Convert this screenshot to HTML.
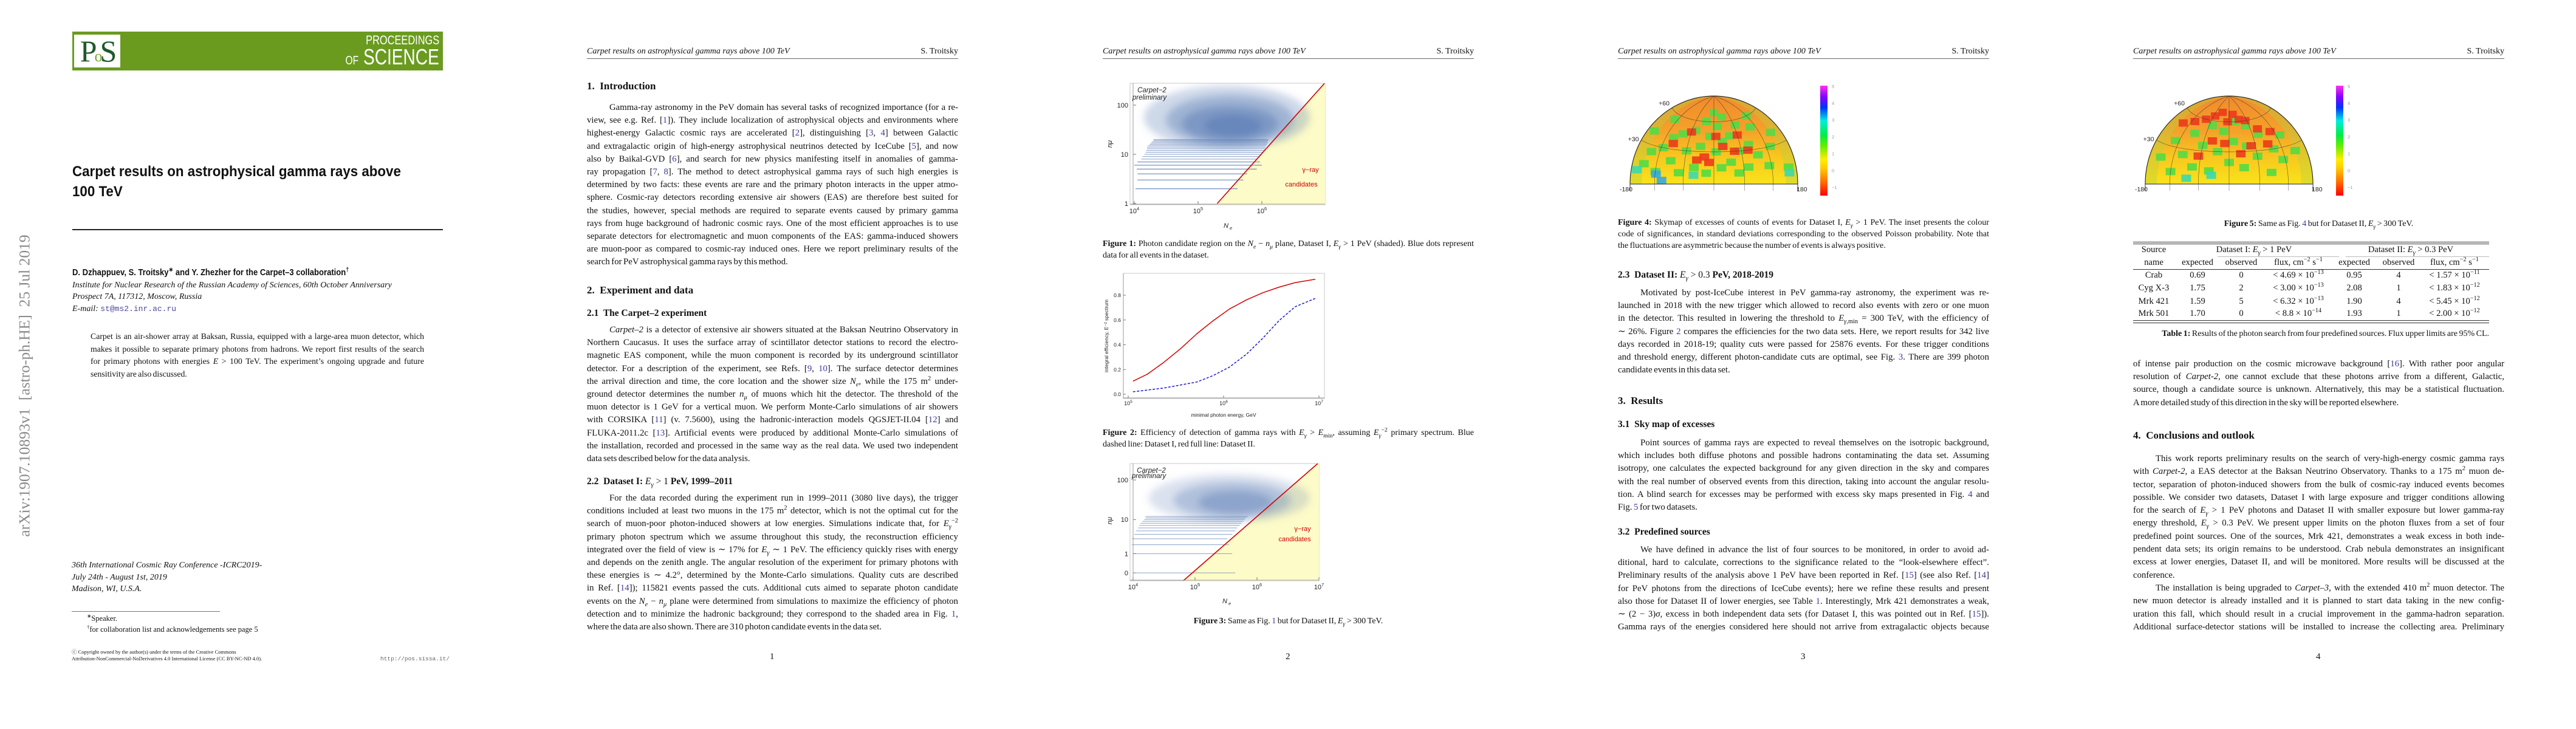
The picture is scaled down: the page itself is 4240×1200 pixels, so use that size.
<!DOCTYPE html>
<html><head><meta charset="utf-8">
<style>
html,body{margin:0;padding:0;background:#fff;}
body{width:4240px;height:1200px;position:relative;overflow:hidden;font-family:"Liberation Serif",serif;color:#111;}
.a{position:absolute;}
.hdr{position:absolute;top:76px;width:611px;height:20px;border-bottom:1px solid #666;font-size:14px;line-height:18px;}
.hdr i{float:left;}
.hdr span{float:right;}
.par{position:absolute;width:611px;font-size:14.8px;line-height:21.2px;}
.par div{text-align:justify;text-align-last:justify;word-spacing:-1.2px;white-space:normal;}
.par div.e{text-align-last:left;}
.par div.i{padding-left:37px;}
.cap{position:absolute;width:611px;font-size:14px;line-height:18.8px;}
.cap div{text-align:justify;text-align-last:justify;word-spacing:-1px;}
.cap div.e{text-align-last:left;}
.h1{position:absolute;font-weight:bold;font-size:17px;line-height:20px;white-space:nowrap;}
.h2{position:absolute;font-weight:bold;font-size:15.5px;line-height:20px;white-space:nowrap;}
.pn{position:absolute;top:1073px;font-size:15px;}
.r{color:#3b3b9e;}
sup{font-size:70%;line-height:0;}
sub{font-size:70%;line-height:0;}
</style></head>
<body>

<!-- ================= PAGE 1 ================= -->
<div class="a" style="left:-236px;top:620px;width:553px;height:30px;transform:rotate(-90deg);transform-origin:center;font-size:25.5px;line-height:30px;color:#8a8a8a;white-space:pre;text-align:center;">arXiv:1907.10893v1  [astro-ph.HE]  25 Jul 2019</div>

<div class="a" style="left:119px;top:52px;width:610px;height:64px;background:#6a9b1f;">
  <div class="a" style="left:3px;top:5px;width:76px;height:54px;background:#fff;font-family:'Liberation Serif',serif;font-size:50px;line-height:54px;color:#1f5a2a;text-align:center;letter-spacing:-4px;">P<span style="font-size:26px;color:#7aa530;">o</span>S</div>
  <div class="a" style="right:6px;top:3px;color:#fff;font-family:'Liberation Sans',sans-serif;font-size:21px;line-height:24px;transform:scaleX(.78);transform-origin:right;white-space:nowrap;">PROCEEDINGS</div>
  <div class="a" style="right:6px;top:22px;color:#fff;font-family:'Liberation Sans',sans-serif;font-size:36px;line-height:40px;transform:scaleX(.78);transform-origin:right;white-space:nowrap;"><span style="font-size:20px;">OF</span> SCIENCE</div>
</div>

<div class="a" style="left:119px;top:266px;font-family:'Liberation Sans',sans-serif;font-weight:bold;font-size:24px;line-height:33px;transform:scaleX(.93);transform-origin:left;white-space:nowrap;">Carpet results on astrophysical gamma rays above<br>100 TeV</div>
<div class="a" style="left:119px;top:377px;width:610px;height:2px;background:#222;"></div>

<div class="a" style="left:119px;top:439px;font-family:'Liberation Sans',sans-serif;font-weight:bold;font-size:14.5px;line-height:20px;transform:scaleX(.9);transform-origin:left;white-space:nowrap;">D. Dzhappuev, S. Troitsky<sup>∗</sup> and Y. Zhezher for the Carpet–3 collaboration<sup>†</sup></div>
<div class="a" style="left:119px;top:460px;font-style:italic;font-size:14px;line-height:19.3px;white-space:nowrap;">Institute for Nuclear Research of the Russian Academy of Sciences, 60th October Anniversary<br>Prospect 7A, 117312, Moscow, Russia<br>E-mail: <span style="font-style:normal;font-family:'Liberation Mono',monospace;font-size:13px;color:#4a4a9e;">st@ms2.inr.ac.ru</span></div>

<div class="par" style="left:149px;top:544px;width:549px;line-height:20.7px;font-size:13.8px;">
<div style="word-spacing:-1.6px">Carpet is an air-shower array at Baksan, Russia, equipped with a large-area muon detector, which</div>
<div style="word-spacing:-1.6px">makes it possible to separate primary photons from hadrons. We report first results of the search</div>
<div style="word-spacing:-1.6px">for primary photons with energies <i>E</i> &gt; 100 TeV. The experiment’s ongoing upgrade and future</div>
<div class="e">sensitivity are also discussed.</div>
</div>

<div class="a" style="left:118px;top:921px;font-style:italic;font-size:14px;line-height:19.5px;white-space:nowrap;">36th International Cosmic Ray Conference -ICRC2019-<br>July 24th - August 1st, 2019<br>Madison, WI, U.S.A.</div>
<div class="a" style="left:118px;top:1006px;width:244px;height:1px;background:#777;"></div>
<div class="a" style="left:143px;top:1009px;font-size:12.5px;line-height:18px;white-space:nowrap;"><sup>∗</sup>Speaker.<br><sup>†</sup>for collaboration list and acknowledgements see page 5</div>
<div class="a" style="left:118px;top:1068px;font-size:8.5px;line-height:11px;white-space:nowrap;">ⓒ Copyright owned by the author(s) under the terms of the Creative Commons<br>Attribution-NonCommercial-NoDerivatives 4.0 International License (CC BY-NC-ND 4.0).</div>
<div class="a" style="left:626px;top:1079px;font-family:'Liberation Mono',monospace;font-size:9.5px;color:#666;white-space:nowrap;">http://pos.sissa.it/</div>

<!-- ================= PAGE 2 ================= -->
<div class="hdr" style="left:966px;"><i>Carpet results on astrophysical gamma rays above 100 TeV</i><span>S. Troitsky</span></div>
<div class="h1" style="left:966px;top:132px;">1.&nbsp; Introduction</div>
<div class="par" style="left:966px;top:167px;">
<div class="i">Gamma-ray astronomy in the PeV domain has several tasks of recognized importance (for a re-</div>
<div>view, see e.g. Ref. [<span class="r">1</span>]). They include localization of astrophysical objects and environments where</div>
<div>highest-energy Galactic cosmic rays are accelerated [<span class="r">2</span>], distinguishing [<span class="r">3</span>, <span class="r">4</span>] between Galactic</div>
<div>and extragalactic origin of high-energy astrophysical neutrinos detected by IceCube [<span class="r">5</span>], and now</div>
<div>also by Baikal-GVD [<span class="r">6</span>], and search for new physics manifesting itself in anomalies of gamma-</div>
<div>ray propagation [<span class="r">7</span>, <span class="r">8</span>]. The method to detect astrophysical gamma rays of such high energies is</div>
<div>determined by two facts: these events are rare and the primary photon interacts in the upper atmo-</div>
<div>sphere. Cosmic-ray detectors recording extensive air showers (EAS) are therefore best suited for</div>
<div>the studies, however, special methods are required to separate events caused by primary gamma</div>
<div>rays from huge background of hadronic cosmic rays. One of the most efficient approaches is to use</div>
<div>separate detectors for electromagnetic and muon components of the EAS: gamma-induced showers</div>
<div>are muon-poor as compared to cosmic-ray induced ones. Here we report preliminary results of the</div>
<div class="e">search for PeV astrophysical gamma rays by this method.</div>
</div>
<div class="h1" style="left:966px;top:468px;">2.&nbsp; Experiment and data</div>
<div class="h2" style="left:966px;top:506px;">2.1&nbsp; The Carpet–2 experiment</div>
<div class="par" style="left:966px;top:533px;">
<div class="i"><i>Carpet–2</i> is a detector of extensive air showers situated at the Baksan Neutrino Observatory in</div>
<div>Northern Caucasus. It uses the surface array of scintillator detector stations to record the electro-</div>
<div>magnetic EAS component, while the muon component is recorded by its underground scintillator</div>
<div>detector. For a description of the experiment, see Refs. [<span class="r">9</span>, <span class="r">10</span>]. The surface detector determines</div>
<div>the arrival direction and time, the core location and the shower size <i>N<sub>e</sub></i>, while the 175 m<sup>2</sup> under-</div>
<div>ground detector determines the number <i>n<sub>μ</sub></i> of muons which hit the detector. The threshold of the</div>
<div>muon detector is 1 GeV for a vertical muon. We perform Monte-Carlo simulations of air showers</div>
<div>with CORSIKA [<span class="r">11</span>] (v. 7.5600), using the hadronic-interaction models QGSJET-II.04 [<span class="r">12</span>] and</div>
<div>FLUKA-2011.2c [<span class="r">13</span>]. Artificial events were produced by additional Monte-Carlo simulations of</div>
<div>the installation, recorded and processed in the same way as the real data. We used two independent</div>
<div class="e">data sets described below for the data analysis.</div>
</div>
<div class="h2" style="left:966px;top:783px;">2.2&nbsp; Dataset I: <i style="font-weight:normal">E<sub>γ</sub></i> <span style="font-weight:normal">&gt; 1</span> PeV, 1999–2011</div>
<div class="par" style="left:966px;top:810px;">
<div class="i">For the data recorded during the experiment run in 1999–2011 (3080 live days), the trigger</div>
<div>conditions included at least two muons in the 175 m<sup>2</sup> detector, which is not the optimal cut for the</div>
<div>search of muon-poor photon-induced showers at low energies. Simulations indicate that, for <i>E<sub>γ</sub></i><sup>−2</sup></div>
<div>primary photon spectrum which we assume throughout this study, the reconstruction efficiency</div>
<div>integrated over the field of view is ∼ 17% for <i>E<sub>γ</sub></i> ∼ 1 PeV. The efficiency quickly rises with energy</div>
<div>and depends on the zenith angle. The angular resolution of the experiment for primary photons with</div>
<div>these energies is ∼ 4.2°, determined by the Monte-Carlo simulations. Quality cuts are described</div>
<div>in Ref. [<span class="r">14</span>]); 115821 events passed the cuts. Additional cuts aimed to separate photon candidate</div>
<div>events on the <i>N<sub>e</sub></i> − <i>n<sub>μ</sub></i> plane were determined from simulations to maximize the efficiency of photon</div>
<div>detection and to minimize the hadronic background; they correspond to the shaded area in Fig. <span class="r">1</span>,</div>
<div class="e">where the data are also shown. There are 310 photon candidate events in the data set.</div>
</div>
<div class="pn" style="left:1267px;">1</div>

<!-- ================= PAGE 3 ================= -->
<div class="hdr" style="left:1815px;"><i>Carpet results on astrophysical gamma rays above 100 TeV</i><span>S. Troitsky</span></div>
<div class="cap" style="left:1815px;top:393px;">
<div><b>Figure 1:</b> Photon candidate region on the <i>N<sub>e</sub></i> − <i>n<sub>μ</sub></i> plane, Dataset I, <i>E<sub>γ</sub></i> &gt; 1 PeV (shaded). Blue dots represent</div>
<div class="e">data for all events in the dataset.</div>
</div>
<div class="cap" style="left:1815px;top:704px;">
<div><b>Figure 2:</b> Efficiency of detection of gamma rays with <i>E<sub>γ</sub></i> &gt; <i>E</i><sub>min</sub>, assuming <i>E<sub>γ</sub></i><sup>−2</sup> primary spectrum. Blue</div>
<div class="e">dashed line: Dataset I, red full line: Dataset II.</div>
</div>
<div class="cap" style="left:1815px;top:1014px;text-align:center;"><div class="e" style="text-align:center;text-align-last:center;"><b>Figure 3:</b> Same as Fig. <span class="r">1</span> but for Dataset II, <i>E<sub>γ</sub></i> &gt; 300 TeV.</div></div>
<div class="pn" style="left:2116px;">2</div>

<!-- ================= PAGE 4 ================= -->
<div class="hdr" style="left:2663px;"><i>Carpet results on astrophysical gamma rays above 100 TeV</i><span>S. Troitsky</span></div>
<div class="cap" style="left:2663px;top:358px;">
<div><b>Figure 4:</b> Skymap of excesses of counts of events for Dataset I, <i>E<sub>γ</sub></i> &gt; 1 PeV. The inset presents the colour</div>
<div>code of significances, in standard deviations corresponding to the observed Poisson probability. Note that</div>
<div class="e">the fluctuations are asymmetric because the number of events is always positive.</div>
</div>
<div class="h2" style="left:2663px;top:443px;">2.3&nbsp; Dataset II: <i style="font-weight:normal">E<sub>γ</sub></i> <span style="font-weight:normal">&gt; 0.3</span> PeV, 2018-2019</div>
<div class="par" style="left:2663px;top:472px;">
<div class="i">Motivated by post-IceCube interest in PeV gamma-ray astronomy, the experiment was re-</div>
<div>launched in 2018 with the new trigger which allowed to record also events with zero or one muon</div>
<div>in the detector. This resulted in lowering the threshold to <i>E</i><sub><i>γ</i>,min</sub> = 300 TeV, with the efficiency of</div>
<div>∼ 26%. Figure <span class="r">2</span> compares the efficiencies for the two data sets. Here, we report results for 342 live</div>
<div>days recorded in 2018-19; quality cuts were passed for 25876 events. For these trigger conditions</div>
<div>and threshold energy, different photon-candidate cuts are optimal, see Fig. <span class="r">3</span>. There are 399 photon</div>
<div class="e">candidate events in this data set.</div>
</div>
<div class="h1" style="left:2663px;top:650px;">3.&nbsp; Results</div>
<div class="h2" style="left:2663px;top:689px;">3.1&nbsp; Sky map of excesses</div>
<div class="par" style="left:2663px;top:719px;">
<div class="i">Point sources of gamma rays are expected to reveal themselves on the isotropic background,</div>
<div>which includes both diffuse photons and possible hadrons contaminating the data set. Assuming</div>
<div>isotropy, one calculates the expected background for any given direction in the sky and compares</div>
<div>with the real number of observed events from this direction, taking into account the angular resolu-</div>
<div>tion. A blind search for excesses may be performed with excess sky maps presented in Fig. <span class="r">4</span> and</div>
<div class="e">Fig. <span class="r">5</span> for two datasets.</div>
</div>
<div class="h2" style="left:2663px;top:866px;">3.2&nbsp; Predefined sources</div>
<div class="par" style="left:2663px;top:895px;">
<div class="i">We have defined in advance the list of four sources to be monitored, in order to avoid ad-</div>
<div>ditional, hard to calculate, corrections to the significance related to the “look-elsewhere effect”.</div>
<div>Preliminary results of the analysis above 1 PeV have been reported in Ref. [<span class="r">15</span>] (see also Ref. [<span class="r">14</span>]</div>
<div>for PeV photons from the directions of IceCube events); here we refine these results and present</div>
<div>also those for Dataset II of lower energies, see Table <span class="r">1</span>. Interestingly, Mrk 421 demonstrates a weak,</div>
<div>∼ (2 − 3)<i>σ</i>, excess in both independent data sets (for Dataset I, this was pointed out in Ref. [<span class="r">15</span>]).</div>
<div>Gamma rays of the energies considered here should not arrive from extragalactic objects because</div>
</div>
<div class="pn" style="left:2964px;">3</div>

<!-- ================= PAGE 5 ================= -->
<div class="hdr" style="left:3511px;"><i>Carpet results on astrophysical gamma rays above 100 TeV</i><span>S. Troitsky</span></div>
<div class="cap" style="left:3511px;top:360px;"><div class="e" style="text-align:center;text-align-last:center;"><b>Figure 5:</b> Same as Fig. <span class="r">4</span> but for Dataset II, <i>E<sub>γ</sub></i> &gt; 300 TeV.</div></div>

<div class="a" style="left:3511px;top:398px;width:586px;font-size:14.6px;">
  <div class="a" style="left:0;top:0;width:586px;height:1px;background:#333;"></div>
  <div class="a" style="left:0;top:3px;width:586px;height:1px;background:#333;"></div>
  <div class="a" style="left:0;top:45px;width:586px;height:1px;background:#333;"></div>
  <div class="a" style="left:0;top:129px;width:586px;height:1px;background:#333;"></div>
  <div class="a" style="left:0;top:133px;width:586px;height:1px;background:#333;"></div>
  <div class="a" style="left:139px;top:24px;width:200px;height:1px;background:#bbb;"></div>
  <div class="a" style="left:350px;top:24px;width:236px;height:1px;background:#bbb;"></div>
</div>
<div id="tbl" class="a" style="left:0;top:0;"></div>

<div class="cap" style="left:3511px;top:541px;width:586px;"><div class="e" style="text-align:right;text-align-last:right;"><b>Table 1:</b> Results of the photon search from four predefined sources. Flux upper limits are 95% CL.</div></div>

<div class="par" style="left:3511px;top:589px;">
<div>of intense pair production on the cosmic microwave background [<span class="r">16</span>]. With rather poor angular</div>
<div>resolution of <i>Carpet-2</i>, one cannot exclude that these photons arrive from a different, Galactic,</div>
<div>source, though a candidate source is unknown. Alternatively, this may be a statistical fluctuation.</div>
<div class="e">A more detailed study of this direction in the sky will be reported elsewhere.</div>
</div>
<div class="h1" style="left:3511px;top:707px;">4.&nbsp; Conclusions and outlook</div>
<div class="par" style="left:3511px;top:745px;line-height:21.3px;">
<div class="i">This work reports preliminary results on the search of very-high-energy cosmic gamma rays</div>
<div>with <i>Carpet-2</i>, a EAS detector at the Baksan Neutrino Observatory. Thanks to a 175 m<sup>2</sup> muon de-</div>
<div>tector, separation of photon-induced showers from the bulk of cosmic-ray induced events becomes</div>
<div>possible. We consider two datasets, Dataset I with large exposure and trigger conditions allowing</div>
<div>for the search of <i>E<sub>γ</sub></i> &gt; 1 PeV photons and Dataset II with smaller exposure but lower gamma-ray</div>
<div>energy threshold, <i>E<sub>γ</sub></i> &gt; 0.3 PeV. We present upper limits on the photon fluxes from a set of four</div>
<div>predefined point sources. One of the sources, Mrk 421, demonstrates a weak excess in both inde-</div>
<div>pendent data sets; its origin remains to be understood. Crab nebula demonstrates an insignificant</div>
<div>excess at lower energies, Dataset II, and will be monitored. More results will be discussed at the</div>
<div class="e">conference.</div>
<div class="i">The installation is being upgraded to <i>Carpet–3</i>, with the extended 410 m<sup>2</sup> muon detector. The</div>
<div>new muon detector is already installed and it is planned to start data taking in the new config-</div>
<div>uration this fall, which should result in a crucial improvement in the gamma-hadron separation.</div>
<div>Additional surface-detector stations will be installed to increase the collecting area. Preliminary</div>
</div>
<div class="pn" style="left:3812px;">4</div>

<svg id="figs" class="a" style="left:0;top:0;" width="4240" height="1200" viewBox="0 0 4240 1200" xmlns="http://www.w3.org/2000/svg">
<defs>
  <linearGradient id="cbar" x1="0" y1="1" x2="0" y2="0">
    <stop offset="0" stop-color="#ff0000"/>
    <stop offset="0.12" stop-color="#ff6a00"/>
    <stop offset="0.25" stop-color="#ffcc00"/>
    <stop offset="0.33" stop-color="#ffee00"/>
    <stop offset="0.45" stop-color="#66ee00"/>
    <stop offset="0.55" stop-color="#00ee44"/>
    <stop offset="0.68" stop-color="#00eedd"/>
    <stop offset="0.8" stop-color="#0033ff"/>
    <stop offset="0.9" stop-color="#8800ff"/>
    <stop offset="1" stop-color="#ff33ee"/>
  </linearGradient>
  <linearGradient id="skyfill" x1="0" y1="1" x2="0" y2="0">
    <stop offset="0" stop-color="#f9e31a"/>
    <stop offset="0.3" stop-color="#f8c81e"/>
    <stop offset="0.6" stop-color="#f4a22a"/>
    <stop offset="1" stop-color="#f08a2c"/>
  </linearGradient>
  <filter id="blur6" x="-30%" y="-30%" width="160%" height="160%"><feGaussianBlur stdDeviation="6"/></filter>
  <clipPath id="clipF1"><rect x="1860" y="137" width="321" height="200"/></clipPath>
  <clipPath id="clipF3"><rect x="1860" y="763" width="311" height="193"/></clipPath>
</defs>
</svg>

<script>
// ---------------- Figure 1 data (Dataset I scatter, N_e vs n_mu) ----------------
const f1StreakN      = [2, 3, 4, 5, 6, 7, 8, 9, 10, 11, 12, 13, 14, 15, 16, 17, 18, 19, 20];
const f1StreakMinLog = [4.02, 4.05, 4.05, 4.04, 4.00, 4.05, 4.11, 4.13, 4.16, 4.18, 4.19, 4.2, 4.2, 4.22, 4.24, 4.26, 4.28, 4.3, 4.3];
const f1StreakMaxLog = [5.62, 5.71, 5.77, 5.92, 6.00, 5.97, 5.92, 5.97, 6.0, 6.02, 6.04, 6.05, 6.06, 6.07, 6.08, 6.09, 6.09, 6.1, 6.1];
const f1CloudLogNe   = [5.45, 5.5, 5.5, 5.55];
const f1CloudLogN    = [1.75, 1.7, 1.62, 1.58];
const f1CloudRxDec   = [1.3, 1.0, 0.75, 0.45];
const f1CloudRyDec   = [0.65, 0.5, 0.36, 0.22];
const f1CloudAlpha   = [0.3, 0.4, 0.5, 0.6];
const f1CutLogNe     = [5.30, 6.98];
const f1CutLogN      = [0.0, 2.44];
const f1YTicks = [1, 10, 100];
const f1YTickLabels = ["1", "10", "100"];
const f1XTicks = [4, 5, 6];

// ---------------- Figure 2 data (efficiency) ----------------
const f2LogE_II = [5.05, 5.2, 5.37, 5.55, 5.72, 5.89, 6.06, 6.24, 6.41, 6.58, 6.75, 6.96];
const f2Eff_II  = [0.106, 0.162, 0.256, 0.369, 0.489, 0.594, 0.688, 0.763, 0.82, 0.865, 0.902, 0.929];
const f2LogE_I  = [5.05, 5.37, 5.72, 5.89, 6.06, 6.24, 6.41, 6.58, 6.75, 6.96];
const f2Eff_I   = [0.02, 0.05, 0.099, 0.151, 0.219, 0.324, 0.452, 0.594, 0.707, 0.774];
const f2YTicks = [0.0, 0.2, 0.4, 0.6, 0.8];
const f2YTickLabels = ["0.0", "0.2", "0.4", "0.6", "0.8"];
const f2XTicks = [5, 6, 7];

// ---------------- Figure 3 data (Dataset II scatter) ----------------
const f3StreakN      = [0, 1, 2, 3, 4, 5, 6, 7, 8, 9, 10, 11, 12];
const f3StreakMinLog = [4.0, 4.0, 3.98, 3.98, 4.02, 4.05, 4.08, 4.1, 4.12, 4.15, 4.18, 4.2, 4.2];
const f3StreakMaxLog = [5.65, 5.6, 5.55, 5.52, 5.6, 5.65, 5.68, 5.72, 5.75, 5.78, 5.8, 5.82, 5.85];
const f3CloudLogNe   = [5.55, 5.6, 5.65];
const f3CloudLogN    = [1.55, 1.5, 1.45];
const f3CloudRxDec   = [1.3, 0.95, 0.6];
const f3CloudRyDec   = [0.6, 0.45, 0.28];
const f3CloudAlpha   = [0.22, 0.32, 0.42];
const f3CutLogNe     = [4.81, 6.98];
const f3CutU         = [-0.497, 2.41];
const f3YTicks = [0, 1, 10, 100];
const f3YTickLabels = ["0", "1", "10", "100"];
const f3XTicks = [4, 5, 6, 7];

// ---------------- Skymap data (lon, lat, significance) ----------------
const sky1Lon = [-150,-140,-120,-115,-100,-90,-80,-70,-60,-50,-40,-30,-25,-15,-10,0,5,10,15,20,30,35,40,50,55,65,70,80,95,105,115,130,150,160,-160,-130,120,-118,-105,160,-165,-40,-95,-20,-10,20,60,75,-60,5,-35,45];
const sky1Lat = [15,25,10,30,40,20,45,10,30,50,15,35,60,10,45,70,30,55,15,40,65,20,45,10,30,55,15,35,25,50,15,30,40,12,40,55,60,8,3,8,10,8,35,25,20,35,45,30,48,45,22,30];
const sky1Sig = [1.2,1.1,1.3,1.2,1.2,1.1,1.2,1.3,1.1,1.2,1.2,1.1,1.2,1.3,1.2,1.1,1.2,1.1,1.3,1.2,1.1,1.3,1.2,1.2,1.1,1.2,1.3,1.1,1.2,1.2,1.3,1.2,1.1,1.4,1.1,1.2,1.1,2.6,2.8,2.4,2.3,2.2,-1.3,-1.4,-1.3,-1.2,-1.3,-1.3,-1.2,-1.2,-1.2,-1.1];
const sky2Lon = [-150,-130,-120,-100,-90,-75,-60,-50,-40,-25,-15,0,10,20,30,40,50,60,75,85,100,115,130,150,-140,-110,-80,-55,-30,-5,15,35,55,80,110,-65,-40,-10,25,50,90,-35,-85];
const sky2Lat = [20,35,10,25,45,15,35,55,12,30,50,20,40,60,15,35,55,25,45,10,30,20,40,25,50,55,60,65,70,60,68,62,60,50,45,25,40,38,28,35,35,8,5];
const sky2Sig = [1.2,1.1,1.3,1.2,1.1,1.2,1.3,1.1,1.2,1.2,1.1,1.3,1.2,1.1,1.2,1.3,1.1,1.2,1.2,1.3,1.1,1.2,1.1,1.2,-1.2,-1.3,-1.2,-1.3,-1.2,-1.3,-1.2,-1.3,-1.2,-1.3,-1.2,-1.3,-1.3,-1.4,-1.3,-1.2,-1.2,2.4,2.2];
const skyMeridians = [-120, -60, 0, 60, 120];
const skyParallels = [30, 60];
const cbarTicks = [5, 4, 3, 2, 1, 0, -1];

// ---------------- Table data ----------------
const tblSources = ["Crab", "Cyg X-3", "Mrk 421", "Mrk 501"];
const tblExp1 = ["0.69", "1.75", "1.59", "1.70"];
const tblObs1 = ["0", "2", "5", "0"];
const tblFlux1 = ["4.69", "3.00", "6.32", "8.8"];
const tblFluxExp1 = ["−13", "−13", "−13", "−14"];
const tblExp2 = ["0.95", "2.08", "1.90", "1.93"];
const tblObs2 = ["4", "1", "4", "1"];
const tblFlux2 = ["1.57", "1.83", "5.45", "2.00"];
const tblFluxExp2 = ["−11", "−12", "−12", "−12"];

const NS = "http://www.w3.org/2000/svg";
const svg = document.getElementById("figs");
function mk(tag, attrs, parent) {
  const e = document.createElementNS(NS, tag);
  for (const k in attrs) e.setAttribute(k, attrs[k]);
  (parent || svg).appendChild(e);
  return e;
}
function txt(x, y, s, size, anchor, parent, extra) {
  const t = mk("text", Object.assign({x: x, y: y, "font-size": size, "text-anchor": anchor || "start", "font-family": "Liberation Sans, sans-serif", fill: "#222"}, extra || {}), parent);
  t.textContent = s;
  return t;
}
function pow10Label(x, y, exp, parent) {
  const t = mk("text", {x: x, y: y, "font-size": 11, "text-anchor": "middle", "font-family": "Liberation Sans, sans-serif", fill: "#222"}, parent);
  const a = document.createElementNS(NS, "tspan"); a.textContent = "10"; t.appendChild(a);
  const b = document.createElementNS(NS, "tspan"); b.setAttribute("dy", "-5"); b.setAttribute("font-size", "7.5"); b.textContent = String(exp); t.appendChild(b);
  return t;
}

// ======== FIGURE 1 ========
(function () {
  const g = mk("g", {});
  
  
  const X = l => 1867 + (l - 4) * 105;
  const Y = l => 335 - l * 81;
  mk("rect", {x: 1860, y: 137, width: 321, height: 200, fill: "#fff", stroke: "#c8c8c8", "stroke-width": 1}, g);
  const cx1 = X(f1CutLogNe[0]), cy1 = Y(f1CutLogN[0]), cx2 = X(f1CutLogNe[1]), cy2 = Y(f1CutLogN[1]);
  const reg = mk("polygon", {points: cx1 + "," + 337 + " 2181,337 2181,137 " + cx2 + ",137", fill: "#fdfbc8"}, g);
  
  
  const cg = mk("g", {"clip-path": "url(#clipF1)"}, g);
  const bg = mk("g", {filter: "url(#blur6)"}, cg);
  for (let i = 0; i < f1CloudLogNe.length; i++) {
    const el = mk("ellipse", {cx: X(f1CloudLogNe[i]), cy: Y(f1CloudLogN[i]), rx: f1CloudRxDec[i] * 105, ry: f1CloudRyDec[i] * 81, fill: "#5b7db5", opacity: f1CloudAlpha[i]}, bg);
    
    
  }
  for (let i = 0; i < f1StreakN.length; i++) {
    const y = Y(Math.log10(f1StreakN[i]));
    const ln = mk("line", {x1: X(f1StreakMinLog[i]), x2: X(f1StreakMaxLog[i]), y1: y, y2: y, stroke: "#5b7db5", "stroke-width": i < 6 ? 1.4 : 1.0, opacity: 0.75}, cg);
    
    
  }
  const cut = mk("line", {x1: cx1, y1: cy1, x2: cx2, y2: cy2, stroke: "#d00000", "stroke-width": 1.6}, g);
  
  
  mk("line", {x1: 1865, y1: 137, x2: 1865, y2: 337, stroke: "#999", "stroke-width": 1}, g);
  mk("line", {x1: 1860, y1: 336, x2: 2181, y2: 336, stroke: "#999", "stroke-width": 1}, g);
  f1YTicks.forEach((v, i) => {
    const y = Y(Math.log10(v));
    mk("line", {x1: 1865, x2: 1870, y1: y, y2: y, stroke: "#777"}, g);
    const t = txt(1857, y + 4, f1YTickLabels[i], 11, "end", g);
    
    
  });
  f1XTicks.forEach(v => {
    const x = X(v);
    mk("line", {x1: x, x2: x, y1: 336, y2: 331, stroke: "#777"}, g);
    const t = pow10Label(x, 351, v, g);
    
    
  });
  const ct = txt(1896, 152, "Carpet−2", 11.5, "middle", g, {"font-style": "italic"});
  
  
  const pt = txt(1892, 164, "preliminary", 11.5, "middle", g, {"font-style": "italic"});
  
  
  const g1 = txt(2157, 283, "γ−ray", 11, "middle", g, {fill: "#d00000"});
  
  
  const g2 = txt(2142, 307, "candidates", 11, "middle", g, {fill: "#d00000"});
  
  
  const xl = txt(2018, 375, "N", 11, "middle", g, {"font-style": "italic"});
  
  
  txt(2024, 378, "e", 7.5, "start", g, {"font-style": "italic"});
  const yl = txt(0, 0, "nμ", 11, "middle", g, {"font-style": "italic", transform: "translate(1830,237) rotate(-90)"});
  
  
})();

// ======== FIGURE 2 ========
(function () {
  const g = mk("g", {});
  
  
  const X = l => 1857 + (l - 5) * 157;
  const Y = v => 649 - v * 203.75;
  mk("rect", {x: 1849, y: 450, width: 331, height: 206, fill: "#fff", stroke: "#c8c8c8"}, g);
  mk("line", {x1: 1849, y1: 450, x2: 1849, y2: 656, stroke: "#999"}, g);
  mk("line", {x1: 1849, y1: 655, x2: 2180, y2: 655, stroke: "#999"}, g);
  f2YTicks.forEach((v, i) => {
    const y = Y(v);
    mk("line", {x1: 1849, x2: 1853, y1: y, y2: y, stroke: "#777"}, g);
    const t = txt(1845, y + 3, f2YTickLabels[i], 8.5, "end", g);
    
    
  });
  f2XTicks.forEach(v => {
    const x = X(v);
    mk("line", {x1: x, x2: x, y1: 655, y2: 651, stroke: "#777"}, g);
    const t = mk("text", {x: x, y: 667, "font-size": 9, "text-anchor": "middle", "font-family": "Liberation Sans, sans-serif", fill: "#222"}, g);
    
    
    const a = document.createElementNS(NS, "tspan"); a.textContent = "10"; t.appendChild(a);
    const b = document.createElementNS(NS, "tspan"); b.setAttribute("dy", "-4"); b.setAttribute("font-size", "6.5"); b.textContent = String(v); t.appendChild(b);
  });
  const pII = f2LogE_II.map((l, i) => X(l) + "," + Y(f2Eff_II[i])).join(" ");
  const l2 = mk("polyline", {points: pII, fill: "none", stroke: "#d40000", "stroke-width": 1.5, "stroke-linejoin": "round"}, g);
  
  
  const pI = f2LogE_I.map((l, i) => X(l) + "," + Y(f2Eff_I[i])).join(" ");
  const l1 = mk("polyline", {points: pI, fill: "none", stroke: "#1a1ad0", "stroke-width": 1.5, "stroke-dasharray": "4,2.5"}, g);
  
  
  const xl = txt(2014, 686, "minimal photon energy, GeV", 8.5, "middle", g);
  
  
  const yl = txt(0, 0, "integral efficiency, E⁻² spectrum", 8.5, "middle", g, {transform: "translate(1824,553) rotate(-90)"});
  
  
})();

// ======== FIGURE 3 ========
(function () {
  const g = mk("g", {});
  
  
  const X = l => 1865 + (l - 4) * 102;
  const Yu = u => 943 - (u + 0.301) * 66.4;
  const Yn = n => Yu(Math.log10(n + 0.5));
  mk("rect", {x: 1860, y: 763, width: 311, height: 193, fill: "#fff", stroke: "#c8c8c8"}, g);
  const cx1 = X(f3CutLogNe[0]), cy1 = Yu(f3CutU[0]), cx2 = X(f3CutLogNe[1]), cy2 = Yu(f3CutU[1]);
  const reg = mk("polygon", {points: cx1 + ",956 2171,956 2171,763 " + cx2 + ",763", fill: "#fdfbc8"}, g);
  
  
  const cg = mk("g", {"clip-path": "url(#clipF3)"}, g);
  const bg = mk("g", {filter: "url(#blur6)"}, cg);
  for (let i = 0; i < f3CloudLogNe.length; i++) {
    const el = mk("ellipse", {cx: X(f3CloudLogNe[i]), cy: Yu(f3CloudLogN[i]), rx: f3CloudRxDec[i] * 102, ry: f3CloudRyDec[i] * 66.4, fill: "#5b7db5", opacity: f3CloudAlpha[i]}, bg);
    
    
  }
  for (let i = 0; i < f3StreakN.length; i++) {
    const y = Yn(f3StreakN[i]);
    const ln = mk("line", {x1: X(f3StreakMinLog[i]), x2: X(f3StreakMaxLog[i]), y1: y, y2: y, stroke: "#5b7db5", "stroke-width": 1.0, opacity: 0.7}, cg);
    
    
  }
  const cut = mk("line", {x1: cx1, y1: cy1, x2: cx2, y2: cy2, stroke: "#d00000", "stroke-width": 1.6}, cg);
  
  
  mk("line", {x1: 1865, y1: 763, x2: 1865, y2: 956, stroke: "#999"}, g);
  mk("line", {x1: 1860, y1: 955, x2: 2171, y2: 955, stroke: "#999"}, g);
  f3YTicks.forEach((v, i) => {
    const y = Yn(v);
    mk("line", {x1: 1865, x2: 1870, y1: y, y2: y, stroke: "#777"}, g);
    const t = txt(1857, y + 4, f3YTickLabels[i], 11, "end", g);
    
    
  });
  f3XTicks.forEach(v => {
    const x = X(v);
    mk("line", {x1: x, x2: x, y1: 955, y2: 950, stroke: "#777"}, g);
    const t = pow10Label(x, 970, v, g);
    
    
  });
  const ct = txt(1895, 778, "Carpet−2", 11.5, "middle", g, {"font-style": "italic"});
  
  
  const pt = txt(1891, 787, "preliminary", 11.5, "middle", g, {"font-style": "italic"});
  
  
  const g1 = txt(2144, 874, "γ−ray", 11, "middle", g, {fill: "#d00000"});
  
  
  const g2 = txt(2131, 891, "candidates", 11, "middle", g, {fill: "#d00000"});
  
  
  const xl = txt(2016, 993, "N", 11, "middle", g, {"font-style": "italic"});
  
  
  txt(2022, 996, "e", 7.5, "start", g, {"font-style": "italic"});
  const yl = txt(0, 0, "nμ", 11, "middle", g, {"font-style": "italic", transform: "translate(1830,857) rotate(-90)"});
  
  
})();

// ======== SKYMAPS ========
function sigColor(s) {
  if (s < -0.5) return "#ec3a1c";
  if (s < 0.5) return "#f5b020";
  if (s < 1.7) return "#52dc44";
  if (s < 2.5) return "#3ad8b0";
  return "#3aa8e0";
}
function drawSky(cx, by, lons, lats, sigs, cbx, name) {
  const g = mk("g", {});
  
  
  const sx = 48.8, sy = 102.5;
  const P = (lon, lat) => {
    const l = lon * Math.PI / 180, p = lat * Math.PI / 180;
    const d = Math.sqrt(1 + Math.cos(p) * Math.cos(l / 2));
    return [cx + sx * 2 * Math.SQRT2 * Math.cos(p) * Math.sin(l / 2) / d, by - sy * Math.SQRT2 * Math.sin(p) / d];
  };
  let outline = [];
  for (let lat = 0; lat <= 90; lat += 2) outline.push(P(-180, lat));
  for (let lat = 90; lat >= 0; lat -= 2) outline.push(P(180, lat));
  const od = "M" + outline.map(p => p[0].toFixed(1) + "," + p[1].toFixed(1)).join(" L") + " Z";
  const clipId = "clip" + name;
  const cp = mk("clipPath", {id: clipId}, svg.querySelector("defs"));
  mk("path", {d: od}, cp);
  mk("path", {d: od, fill: "url(#skyfill)"}, g);
  const bg = mk("g", {"clip-path": "url(#" + clipId + ")"}, g);
  let rim = [];
  for (let lat = 0; lat <= 90; lat += 2) rim.push(P(-150, lat));
  for (let lat = 90; lat >= 0; lat -= 2) rim.push(P(150, lat));
  mk("path", {d: od + " M" + rim.map(p => p[0].toFixed(1) + "," + p[1].toFixed(1)).join(" L") + " Z", fill: "#b8d040", "fill-rule": "evenodd", opacity: 0.4}, bg);
  for (let i = 0; i < lons.length; i++) {
    const p = P(lons[i], lats[i]);
    const w = 13 * Math.cos(lats[i] * Math.PI / 360) + 3;
    const r = mk("rect", {x: p[0] - w / 2, y: p[1] - 6, width: w, height: 12, fill: sigColor(sigs[i]), opacity: 0.9}, bg);
    
    
  }
  skyMeridians.forEach(lon => {
    let pts = [];
    for (let lat = 0; lat <= 90; lat += 3) pts.push(P(lon, lat));
    mk("polyline", {points: pts.map(p => p.join(",")).join(" "), fill: "none", stroke: "#333", "stroke-width": 0.6, opacity: 0.8}, g);
    const b = P(lon, 0);
    mk("line", {x1: b[0], x2: b[0], y1: by, y2: by + 11, stroke: "#999", "stroke-width": 0.8}, g);
  });
  skyParallels.forEach(lat => {
    let pts = [];
    for (let lon = -180; lon <= 180; lon += 6) pts.push(P(lon, lat));
    mk("polyline", {points: pts.map(p => p.join(",")).join(" "), fill: "none", stroke: "#333", "stroke-width": 0.6, opacity: 0.8}, g);
  });
  mk("path", {d: od, fill: "none", stroke: "#222", "stroke-width": 1.1}, g);
  mk("line", {x1: P(-180, 0)[0], x2: P(-180, 0)[0], y1: by, y2: by + 11, stroke: "#333"}, g);
  mk("line", {x1: P(180, 0)[0], x2: P(180, 0)[0], y1: by, y2: by + 11, stroke: "#333"}, g);
  const l60 = P(-180, 60), l30 = P(-180, 30);
  let t = txt(l60[0] - 4, l60[1] - 4, "+60", 10.5, "end", g);  
  t = txt(l30[0] - 4, l30[1] + 2, "+30", 10.5, "end", g);  
  t = txt(P(-180, 0)[0] + 4, by + 12, "-180", 10.5, "end", g);  
  t = txt(P(180, 0)[0] - 2, by + 12, "180", 10.5, "start", g);  
  const cb = mk("rect", {x: cbx, y: 141, width: 12, height: 181, fill: "url(#cbar)"}, g);
  
  
  cbarTicks.forEach(v => {
    const y = 308 - (v + 1) * 27.7;
    const tl = txt(cbx + 19, y + 3, v < 0 ? "−" + Math.abs(v) : String(v), 7.5, "start", g, {fill: "#999"});
    
    
  });
}
drawSky(2821, 303, sky1Lon, sky1Lat, sky1Sig, 2996, "skymap-dataset1");
drawSky(3669, 303, sky2Lon, sky2Lat, sky2Sig, 3845, "skymap-dataset2");

// ======== TABLE ========
(function () {
  const host = document.getElementById("tbl");
  const colX = [3545, 3617, 3689, 3783, 3875, 3948, 4040];
  const rowY = [454, 475, 497, 517];
  function cell(x, y, html, name) {
    const d = document.createElement("div");
    d.className = "a";
    d.style.cssText = "left:" + (x - 100) + "px;top:" + (y - 11) + "px;width:200px;text-align:center;font-size:14.6px;line-height:20px;white-space:nowrap;";
    d.innerHTML = html;
    
    
    host.appendChild(d);
  }
  cell(3545, 412, "Source", "col-header-source");
  cell(3545, 433, "name", "col-header-name");
  cell(3710, 412, "Dataset I: <i>E<sub>γ</sub></i> &gt; 1 PeV", "group-header-dataset1");
  cell(3968, 412, "Dataset II: <i>E<sub>γ</sub></i> &gt; 0.3 PeV", "group-header-dataset2");
  cell(colX[1], 433, "expected", "col-header-expected1");
  cell(colX[2], 433, "observed", "col-header-observed1");
  cell(colX[3], 433, "flux, cm<sup>−2</sup> s<sup>−1</sup>", "col-header-flux1");
  cell(colX[4], 433, "expected", "col-header-expected2");
  cell(colX[5], 433, "observed", "col-header-observed2");
  cell(colX[6], 433, "flux, cm<sup>−2</sup> s<sup>−1</sup>", "col-header-flux2");
  for (let i = 0; i < tblSources.length; i++) {
    const y = rowY[i];
    cell(colX[0], y, tblSources[i], "source-name");
    cell(colX[1], y, tblExp1[i], "expected-dataset1");
    cell(colX[2], y, tblObs1[i], "observed-dataset1");
    cell(colX[3], y, "&lt; " + tblFlux1[i] + " × 10<sup>" + tblFluxExp1[i] + "</sup>", "flux-limit-dataset1");
    cell(colX[4], y, tblExp2[i], "expected-dataset2");
    cell(colX[5], y, tblObs2[i], "observed-dataset2");
    cell(colX[6], y, "&lt; " + tblFlux2[i] + " × 10<sup>" + tblFluxExp2[i] + "</sup>", "flux-limit-dataset2");
  }
})();
</script>
</body></html>
